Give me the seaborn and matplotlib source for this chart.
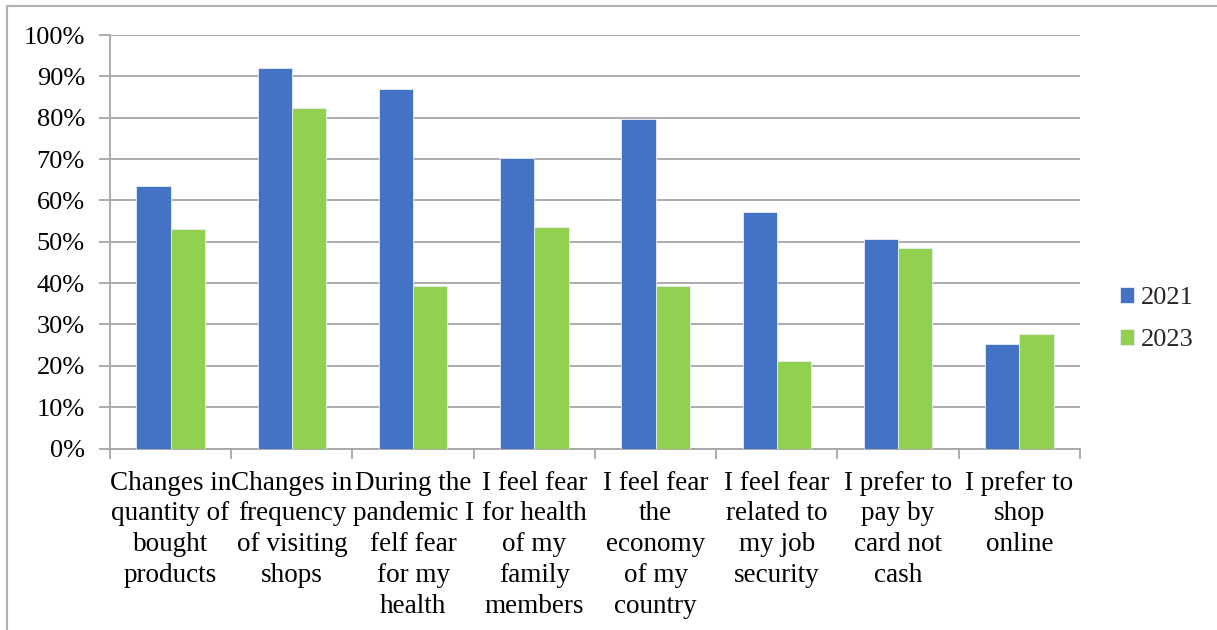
import matplotlib
matplotlib.use("Agg")
import matplotlib.pyplot as plt
import seaborn as sns
import pandas as pd
from matplotlib.lines import Line2D
from matplotlib.ticker import FuncFormatter, FixedLocator

categories = [
    "Changes in quantity of bought products",
    "Changes in frequency of visiting shops",
    "During the pandemic I felf fear for my health",
    "I feel fear for health of my family members",
    "I feel fear the economy of my country",
    "I feel fear related to my job security",
    "I prefer to pay by card not cash",
    "I prefer to shop online",
]
tick_labels = [
    "Changes in\nquantity of\nbought\nproducts",
    "Changes in\nfrequency\nof visiting\nshops",
    "During the\npandemic I\nfelf fear\nfor my\nhealth",
    "I feel fear\nfor health\nof my\nfamily\nmembers",
    "I feel fear\nthe\neconomy\nof my\ncountry",
    "I feel fear\nrelated to\nmy job\nsecurity",
    "I prefer to\npay by\ncard not\ncash",
    "I prefer to\nshop\nonline",
]
years = ["2021", "2023"]
values_2021 = [63.6, 91.9, 86.9, 70.2, 79.7, 57.2, 50.6, 25.3]
values_2023 = [53.2, 82.3, 39.4, 53.5, 39.4, 21.1, 48.5, 27.7]

df = pd.DataFrame({
    "category": categories * 2,
    "year": [years[0]] * len(categories) + [years[1]] * len(categories),
    "value": values_2021 + values_2023,
})

sns.set_theme(style="white")
plt.rcParams["font.family"] = ["Liberation Serif", "DejaVu Serif"]

fig = plt.figure(figsize=(12.17, 6.3), dpi=100)
ax = fig.add_axes([110 / 1217, 1 - 448.5 / 630, (1080 - 110) / 1217, (448.5 - 35) / 630])

palette = {"2021": "#4472C4", "2023": "#92D050"}
sns.barplot(data=df, x="category", y="value", hue="year", palette=palette,
            width=0.565, ax=ax, edgecolor="#E8EEF8", linewidth=0.6,
            saturation=1, errorbar=None, order=categories, zorder=3)

grid_c = "#A6A6A6"
ax.set_ylim(0, 100)
ax.set_xlim(-0.5, len(categories) - 0.5)
ax.set_yticks(range(0, 101, 10))
ax.yaxis.set_major_formatter(FuncFormatter(lambda v, p: f"{int(v)}%"))
ax.grid(axis="y", color=grid_c, linewidth=1.3, zorder=0)
ax.grid(axis="x", visible=False)
ax.set_axisbelow(True)

ax.set_xticks(range(len(categories)))
ax.set_xticklabels(tick_labels, fontsize=19.5, linespacing=1.3, color="black")
ax.tick_params(axis="x", length=0, pad=16)
ax.xaxis.set_minor_locator(FixedLocator([i - 0.5 for i in range(len(categories) + 1)]))
ax.tick_params(axis="x", which="minor", length=7, width=1.3, color=grid_c, direction="out", bottom=True)
ax.tick_params(axis="y", length=8, width=1.3, color=grid_c, direction="out", left=True,
               labelsize=19, labelcolor="black", pad=10)

for s in ["top", "right"]:
    ax.spines[s].set_visible(False)
for s in ["left", "bottom"]:
    ax.spines[s].set_color(grid_c)
    ax.spines[s].set_linewidth(1.3)

ax.set_xlabel("")
ax.set_ylabel("")

handles, labels = ax.get_legend_handles_labels()
ax.legend(handles, labels, loc="center left", bbox_to_anchor=(1096 / 1217, 1 - 319 / 630),
          bbox_transform=fig.transFigure, frameon=False, fontsize=19,
          handlelength=0.55, handleheight=0.55, handletextpad=0.25, labelspacing=0.75)

# outer frame: only top and left edges are visible in the reference
fig.lines.append(Line2D([6.5 / 1217, 6.5 / 1217], [0, 1 - 6 / 630], transform=fig.transFigure,
                        color="#B0B0B0", linewidth=1.5))
fig.lines.append(Line2D([6.5 / 1217, 1], [1 - 6 / 630, 1 - 6 / 630], transform=fig.transFigure,
                        color="#B0B0B0", linewidth=1.5))

fig.savefig("out.png", dpi=100)
